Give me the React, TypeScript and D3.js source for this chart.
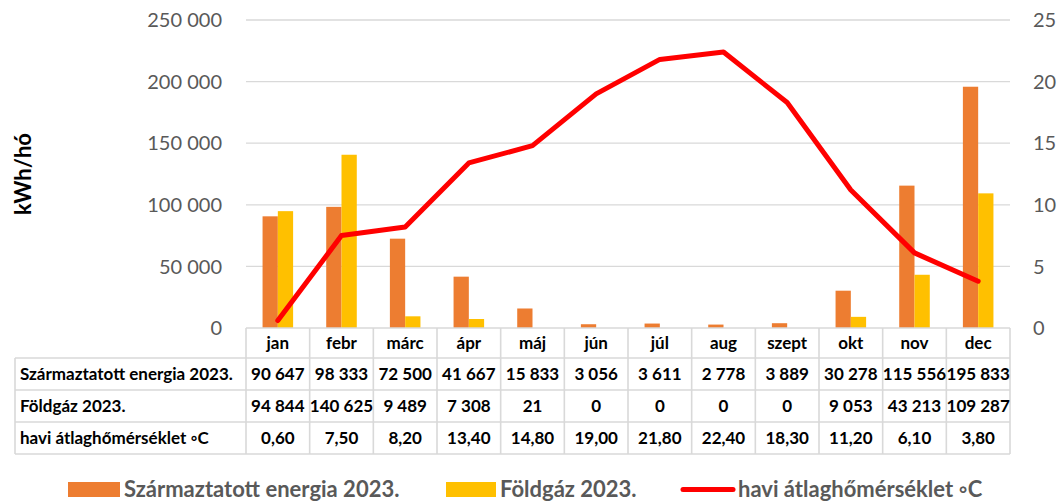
import React from "react";
import * as d3 from "d3";

const months = ["jan", "febr", "márc", "ápr", "máj", "jún", "júl", "aug", "szept", "okt", "nov", "dec"];
const energy = [90647, 98333, 72500, 41667, 15833, 3056, 3611, 2778, 3889, 30278, 115556, 195833];
const gas = [94844, 140625, 9489, 7308, 21, 0, 0, 0, 0, 9053, 43213, 109287];
const temp = [0.6, 7.5, 8.2, 13.4, 14.8, 19.0, 21.8, 22.4, 18.3, 11.2, 6.1, 3.8];
const leftTicks = [0, 50000, 100000, 150000, 200000, 250000];
const rightTicks = [0, 5, 10, 15, 20, 25];
const seriesNames = ["Származtatott energia 2023.", "Földgáz 2023.", "havi átlaghőmérséklet ◦C"];

const W = 1057, H = 501;
const plotL = 246, plotR = 1010, plotT = 20, plotB = 328;
const tableLeft = 15;
const rowLines = [328, 358, 390, 422, 454];
const FONT = "Lato, 'Open Sans', sans-serif";
const GRID = "#d9d9d9";
const TXT = "#595959";
const ORANGE = "#ED7D31";
const YELLOW = "#FFC000";
const RED = "#FF0000";

const fmt = (v: number) => {
  const s = Math.round(v).toString();
  return s.replace(/\B(?=(\d{3})+(?!\d))/g, " ");
};
const fmtT = (v: number) => v.toFixed(2).replace(".", ",");

export default function App() {
  const x = d3.scaleBand<string>().domain(months).range([plotL, plotR]);
  const yL = d3.scaleLinear().domain([0, 250000]).range([plotB, plotT]);
  const yR = d3.scaleLinear().domain([0, 25]).range([plotB, plotT]);
  const bw = x.bandwidth() * 0.24;
  const line = d3
    .line<number>()
    .x((_, i) => (x(months[i]) as number) + x.bandwidth() / 2)
    .y((d) => yR(d));

  const rows = [
    { name: seriesNames[0], vals: energy.map(fmt) },
    { name: seriesNames[1], vals: gas.map(fmt) },
    { name: seriesNames[2], vals: temp.map(fmtT) },
  ];

  return (
    <svg
      width={W}
      height={H}
      style={{ position: "absolute", left: 0, top: 0, background: "#fff" }}
      fontFamily={FONT}
    >
      {leftTicks.slice(1).map((t) => (
        <line key={t} x1={plotL} x2={plotR} y1={yL(t)} y2={yL(t)} stroke={GRID} strokeWidth={1.3} />
      ))}
      {leftTicks.map((t) => (
        <text key={t} x={222} y={yL(t)} dy="0.36em" textAnchor="end" fontSize={20} fill={TXT}>
          {fmt(t)}
        </text>
      ))}
      {rightTicks.map((t) => (
        <text key={t} x={1033} y={yR(t)} dy="0.36em" textAnchor="start" fontSize={20} fill={TXT}>
          {t}
        </text>
      ))}
      <text
        transform={`translate(31,174) rotate(-90)`}
        textAnchor="middle"
        fontSize={22}
        fontWeight="bold"
        fill="#000"
      >
        kWh/hó
      </text>
      {months.map((m, i) => {
        const c = (x(m) as number) + x.bandwidth() / 2;
        return (
          <g key={m}>
            <rect x={c - bw} y={yL(energy[i])} width={bw} height={plotB - yL(energy[i])} fill={ORANGE} />
            <rect x={c} y={yL(gas[i])} width={bw} height={plotB - yL(gas[i])} fill={YELLOW} />
          </g>
        );
      })}
      <path d={line(temp) || ""} fill="none" stroke={RED} strokeWidth={5} strokeLinejoin="round" strokeLinecap="round" />
      <g stroke={GRID} strokeWidth={1.6}>
        <line x1={plotL} x2={plotR} y1={rowLines[0]} y2={rowLines[0]} />
        {rowLines.slice(1).map((y) => (
          <line key={y} x1={tableLeft} x2={plotR} y1={y} y2={y} />
        ))}
        <line x1={tableLeft} x2={tableLeft} y1={rowLines[1]} y2={rowLines[4]} />
        {months.map((m) => (
          <line key={m} x1={x(m) as number} x2={x(m) as number} y1={rowLines[0]} y2={rowLines[4]} />
        ))}
        <line x1={plotR} x2={plotR} y1={rowLines[0]} y2={rowLines[4]} />
      </g>
      <g fontSize={17} fontWeight="bold" fill="#000">
        {months.map((m) => (
          <text key={m} x={(x(m) as number) + x.bandwidth() / 2} y={(rowLines[0] + rowLines[1]) / 2} dy="0.36em" textAnchor="middle">
            {m}
          </text>
        ))}
        {rows.map((r, ri) => {
          const yc = (rowLines[ri + 1] + rowLines[ri + 2]) / 2;
          return (
            <g key={r.name}>
              <text x={tableLeft + 5} y={yc} dy="0.36em">
                {r.name}
              </text>
              {r.vals.map((v, i) => (
                <text key={i} x={(x(months[i]) as number) + x.bandwidth() / 2} y={yc} dy="0.36em" textAnchor="middle">
                  {v}
                </text>
              ))}
            </g>
          );
        })}
      </g>
      <g fontSize={22} fontWeight="bold" fill={TXT}>
        <rect x={68} y={482} width={52} height={15} fill={ORANGE} />
        <text x={124} y={489.5} dy="0.36em">{seriesNames[0]}</text>
        <rect x={446} y={482} width={50} height={15} fill={YELLOW} />
        <text x={500} y={489.5} dy="0.36em">{seriesNames[1]}</text>
        <line x1={683} x2={733} y1={489.5} y2={489.5} stroke={RED} strokeWidth={5} strokeLinecap="round" />
        <text x={738} y={489.5} dy="0.36em">{seriesNames[2]}</text>
      </g>
    </svg>
  );
}
